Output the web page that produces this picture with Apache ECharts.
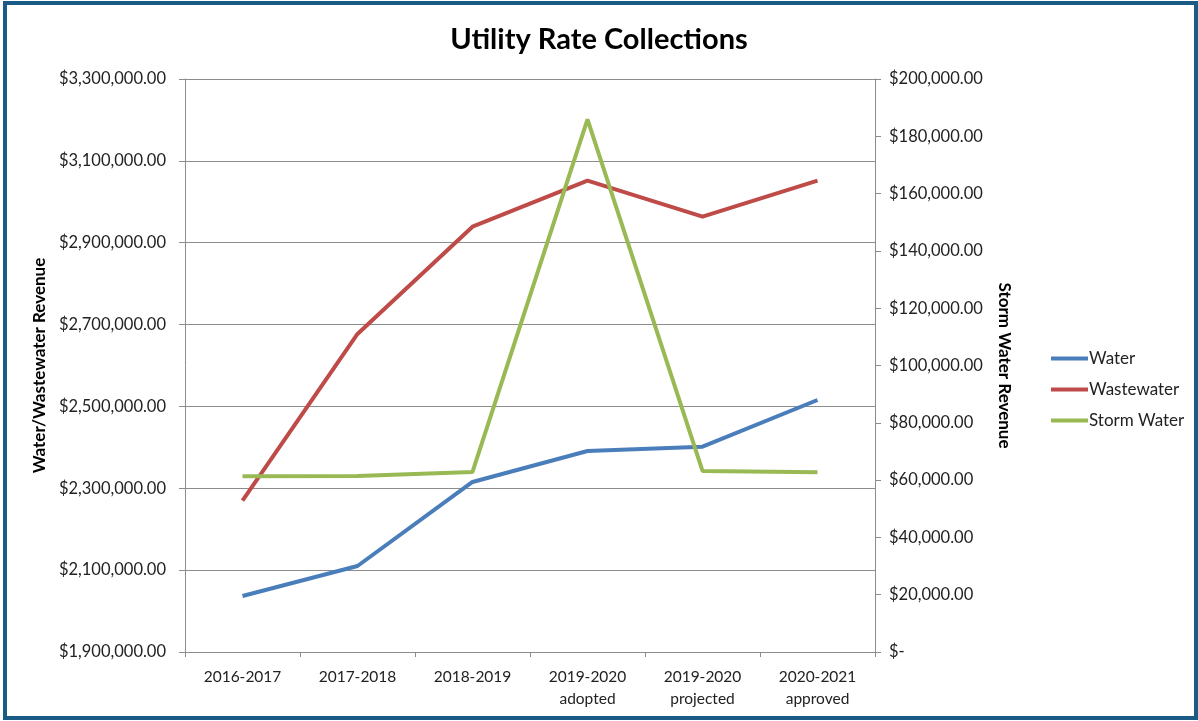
<!DOCTYPE html>
<html>
<head>
<meta charset="utf-8">
<script src="https://cdn.jsdelivr.net/npm/echarts@6/dist/echarts.min.js"></script>
<style>
html,body{margin:0;padding:0;background:#fff;}
#frame{position:absolute;left:3px;top:1px;width:1187px;height:711px;border:4px solid #1b5a85;}
#chart{position:absolute;left:0;top:0;width:1198px;height:721px;}
</style>
</head>
<body>
<div id="frame"></div>
<div id="chart"></div>
<script>
const categories = ['2016-2017', '2017-2018', '2018-2019', '2019-2020\nadopted', '2019-2020\nprojected', '2020-2021\napproved'];
const waterValues = [2036800, 2110100, 2315400, 2391100, 2401600, 2515700];
const wastewaterValues = [2269700, 2677000, 2939100, 3051500, 2963600, 3051500];
const stormWaterValues = [61330, 61430, 62830, 185930, 63180, 62720];
const seriesNames = ['Water', 'Wastewater', 'Storm Water'];
const seriesColors = ['#4a7ebb', '#be4b48', '#98b954'];

function money(v) {
  if (v === 0) return '$-';
  return '$' + v.toLocaleString('en-US', {minimumFractionDigits: 2, maximumFractionDigits: 2});
}

const FONT = 'Lato';
const chart = echarts.init(document.getElementById('chart'));
const lineSeries = [waterValues, wastewaterValues, stormWaterValues].map((d, i) => ({
  name: seriesNames[i],
  type: 'line',
  data: d,
  yAxisIndex: i === 2 ? 1 : 0,
  symbol: 'none',
  lineStyle: {width: 4, color: seriesColors[i]},
  itemStyle: {color: seriesColors[i]},
  animation: false
}));

chart.setOption({
  animation: false,
  textStyle: {fontFamily: FONT},
  title: {
    text: 'Utility Rate Collections',
    left: 'center', top: 20,
    textStyle: {fontFamily: FONT, fontSize: 29, fontWeight: 'bold', color: '#000'}
  },
  legend: {
    orient: 'vertical', left: 1046, top: 345,
    itemWidth: 37, itemHeight: 4, itemGap: 14,
    icon: 'rect',
    textStyle: {fontFamily: FONT, fontSize: 17, color: '#222', padding: [0, 0, 0, -4]},
    data: seriesNames
  },
  grid: {left: 185, right: 323, top: 79, bottom: 69},
  xAxis: {
    type: 'category',
    data: categories,
    boundaryGap: true,
    axisLine: {lineStyle: {color: '#8c8c8c', width: 1}},
    axisTick: {show: true, interval: 0, length: 5, lineStyle: {color: '#8c8c8c'}},
    axisLabel: {interval: 0, margin: 14, fontFamily: FONT, fontSize: 15.5, color: '#222', lineHeight: 22}
  },
  yAxis: [
    {
      type: 'value', min: 1900000, max: 3300000, interval: 200000,
      name: 'Water/Wastewater Revenue', nameLocation: 'middle', nameGap: 133,
      nameTextStyle: {fontFamily: FONT, fontSize: 17, fontWeight: 'bold', color: '#000'},
      axisLine: {show: true, lineStyle: {color: '#8c8c8c'}},
      axisTick: {show: true, length: 6, lineStyle: {color: '#8c8c8c'}},
      axisLabel: {formatter: money, margin: 19, fontFamily: FONT, fontSize: 16.5, color: '#222'},
      splitLine: {show: true, lineStyle: {color: '#8c8c8c', width: 1}}
    },
    {
      type: 'value', min: 0, max: 200000, interval: 20000,
      name: 'Storm Water Revenue', nameLocation: 'middle', nameGap: 121, nameRotate: -90,
      nameTextStyle: {fontFamily: FONT, fontSize: 17, fontWeight: 'bold', color: '#000'},
      axisLine: {show: true, lineStyle: {color: '#8c8c8c'}},
      axisTick: {show: true, length: 6, lineStyle: {color: '#8c8c8c'}},
      axisLabel: {formatter: money, margin: 14, fontFamily: FONT, fontSize: 16.5, color: '#222'},
      splitLine: {show: false}
    }
  ],
  series: lineSeries
});
</script>
</body>
</html>
